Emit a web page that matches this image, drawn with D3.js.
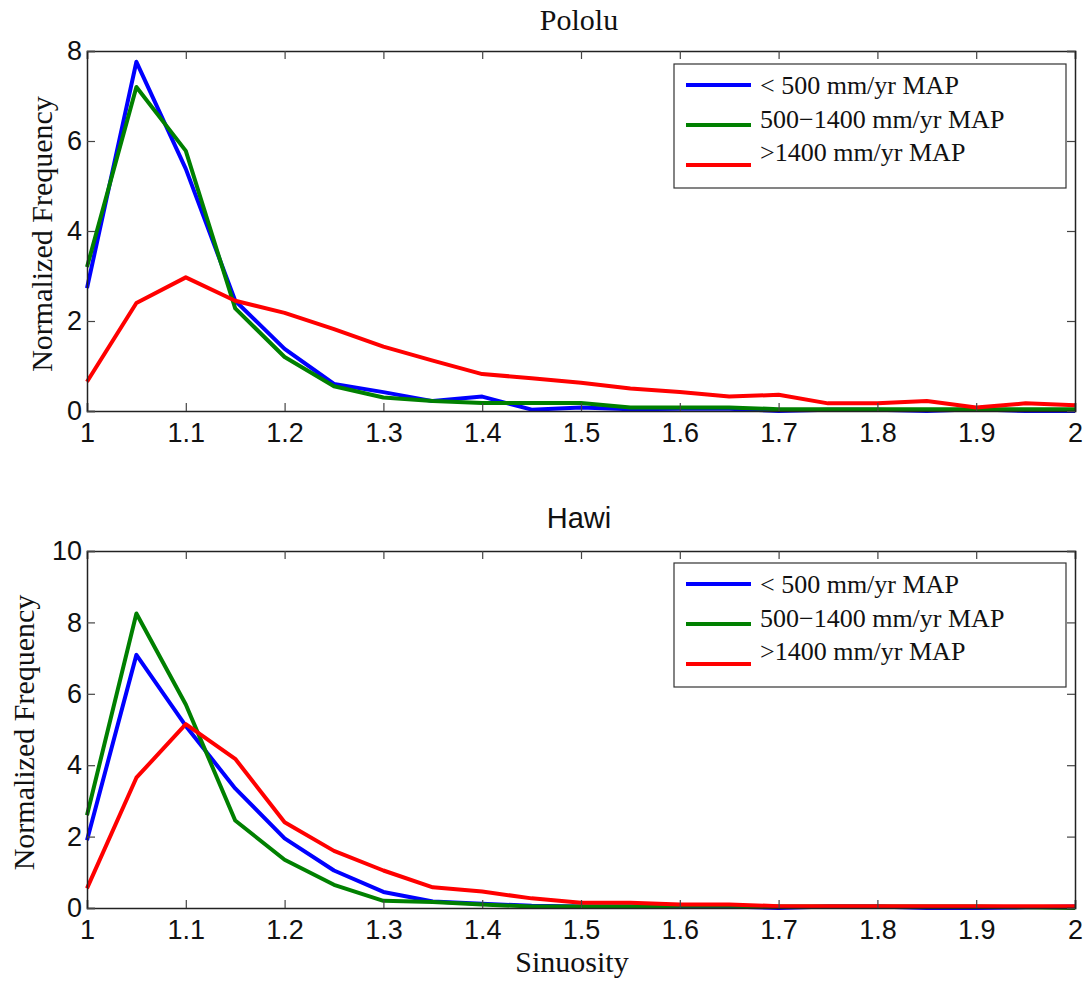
<!DOCTYPE html>
<html>
<head>
<meta charset="utf-8">
<script src="https://cdn.jsdelivr.net/npm/d3@7"></script>
<style>
  body { margin: 0; background: #fff; }
  .tick text { font-family: "Liberation Sans", Arial, sans-serif; font-size: 27px; fill: #111; }
  .lbl { font-family: "Liberation Serif", "Times New Roman", serif; font-size: 30px; fill: #111; }
  .lbl.sans { font-family: "Liberation Sans", Arial, sans-serif; font-size: 29px; }
  .leg { font-family: "Liberation Serif", "Times New Roman", serif; font-size: 26px; fill: #111; }
</style>
</head>
<body>
<div id="chart"></div>
<script>
var svgWidth = 1089;
var svgHeight = 981;

var sinuosity = [1, 1.05, 1.1, 1.15, 1.2, 1.25, 1.3, 1.35, 1.4, 1.45, 1.5,
  1.55, 1.6, 1.65, 1.7, 1.75, 1.8, 1.85, 1.9, 1.95, 2];
var xTicks = [1, 1.1, 1.2, 1.3, 1.4, 1.5, 1.6, 1.7, 1.8, 1.9, 2];
var seriesNames = ["< 500 mm/yr MAP", "500\u22121400 mm/yr MAP", ">1400 mm/yr MAP"];
var seriesColors = ["#0000ff", "#008000", "#ff0000"];

// Pololu
var pololuLow = [2.73, 7.76, 5.38, 2.45, 1.38, 0.6, 0.42, 0.22, 0.32, 0.03, 0.08,
  0.04, 0.05, 0.05, 0.0, 0.03, 0.03, 0.0, 0.04, 0.0, 0.0];
var pololuMid = [3.2, 7.2, 5.78, 2.28, 1.2, 0.55, 0.3, 0.22, 0.18, 0.18, 0.18,
  0.08, 0.08, 0.08, 0.04, 0.04, 0.04, 0.04, 0.04, 0.04, 0.04];
var pololuHigh = [0.65, 2.4, 2.97, 2.45, 2.18, 1.82, 1.43, 1.12, 0.82, 0.73, 0.63,
  0.5, 0.42, 0.32, 0.36, 0.17, 0.17, 0.22, 0.08, 0.17, 0.13];

// Hawi
var hawiLow = [1.9, 7.09, 5.1, 3.35, 1.95, 1.05, 0.45, 0.18, 0.12, 0.06, 0.04,
  0.04, 0.04, 0.04, 0.0, 0.04, 0.04, 0.0, 0.0, 0.02, 0.04];
var hawiMid = [2.6, 8.25, 5.7, 2.45, 1.35, 0.65, 0.2, 0.17, 0.1, 0.04, 0.04,
  0.04, 0.06, 0.06, 0.04, 0.04, 0.04, 0.04, 0.04, 0.02, 0.0];
var hawiHigh = [0.55, 3.65, 5.15, 4.18, 2.4, 1.6, 1.05, 0.58, 0.46, 0.27, 0.15,
  0.15, 0.1, 0.1, 0.05, 0.05, 0.05, 0.05, 0.05, 0.05, 0.05];

var svg = d3.select("#chart").append("svg")
  .attr("width", svgWidth)
  .attr("height", svgHeight);

var panels = [
  { title: "Pololu", titleY: 30, titleSans: false, top: 51, bottom: 411, yMax: 8,
    yTicks: [0, 2, 4, 6, 8], series: [pololuLow, pololuMid, pololuHigh],
    legendTop: 64, ylabX: 52, xLabel: false },
  { title: "Hawi", titleY: 528, titleSans: true, top: 551, bottom: 908, yMax: 10,
    yTicks: [0, 2, 4, 6, 8, 10], series: [hawiLow, hawiMid, hawiHigh],
    legendTop: 563, ylabX: 34, xLabel: true }
];

var left = 87, right = 1075;

panels.forEach(function(p) {
  var xScale = d3.scaleLinear().domain([1, 2]).range([left, right]);
  var yScale = d3.scaleLinear().domain([0, p.yMax]).range([p.bottom, p.top]);
  var g = svg.append("g");

  // lines
  var line = d3.line()
    .x(function(d, i) { return xScale(sinuosity[i]); })
    .y(function(d) { return yScale(d); });
  p.series.forEach(function(s, k) {
    g.append("path")
      .datum(s)
      .attr("fill", "none")
      .attr("stroke", seriesColors[k])
      .attr("stroke-width", 4)
      .attr("stroke-linejoin", "round")
      .attr("d", line);
  });

  // axes, matlab style ticks inside
  g.append("g")
    .attr("transform", "translate(0," + p.bottom + ")")
    .call(d3.axisBottom(xScale).tickValues(xTicks).tickSize(-8).tickPadding(12)
      .tickFormat(function(d) { return d3.format("")(d); }));
  g.append("g")
    .attr("transform", "translate(0," + p.top + ")")
    .call(d3.axisTop(xScale).tickValues(xTicks).tickSize(-8).tickFormat(""));
  g.append("g")
    .attr("transform", "translate(" + left + ",0)")
    .call(d3.axisLeft(yScale).tickValues(p.yTicks).tickSize(-8).tickPadding(5));
  g.append("g")
    .attr("transform", "translate(" + right + ",0)")
    .call(d3.axisRight(yScale).tickValues(p.yTicks).tickSize(-8).tickFormat(""));
  g.selectAll(".domain").attr("stroke", "#222").attr("stroke-width", 1.5);
  g.selectAll(".tick line").attr("stroke", "#444").attr("stroke-width", 1.2);

  // title
  svg.append("text")
    .attr("class", p.titleSans ? "lbl sans" : "lbl")
    .attr("x", 579)
    .attr("y", p.titleY)
    .attr("text-anchor", "middle")
    .text(p.title);

  svg.append("text")
    .attr("class", "lbl")
    .attr("transform", "rotate(-90)")
    .attr("x", -(p.top + p.bottom) / 2 - 3)
    .attr("y", p.ylabX)
    .attr("text-anchor", "middle")
    .text("Normalized Frequency");

  if (p.xLabel) {
    svg.append("text")
      .attr("class", "lbl")
      .attr("x", 572)
      .attr("y", 972)
      .attr("text-anchor", "middle")
      .text("Sinuosity");
  }

  // legend
  var lg = svg.append("g").attr("transform", "translate(674," + p.legendTop + ")");
  lg.append("rect")
    .attr("width", 392).attr("height", 124)
    .attr("fill", "#fff").attr("stroke", "#333").attr("stroke-width", 1.2);
  var lineY = [21, 61, 101];
  var textY = [30, 64, 97];
  seriesNames.forEach(function(name, k) {
    lg.append("line")
      .attr("x1", 12).attr("x2", 77)
      .attr("y1", lineY[k]).attr("y2", lineY[k])
      .attr("stroke", seriesColors[k]).attr("stroke-width", 4);
    lg.append("text")
      .attr("class", "leg")
      .attr("x", 86).attr("y", textY[k])
      .text(name);
  });
});
</script>
</body>
</html>
